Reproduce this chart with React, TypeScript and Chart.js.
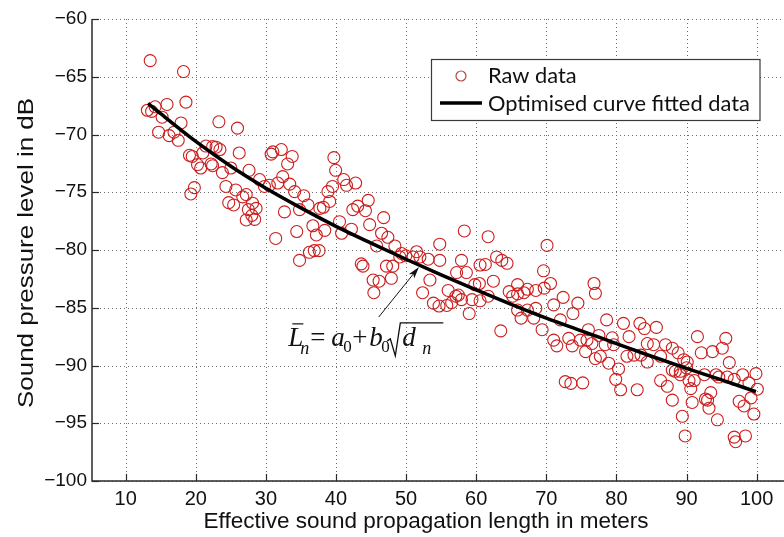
import React, { useEffect, useRef } from "react";
import { Chart, registerables } from "chart.js";
Chart.register(...registerables);

// ---- data ----
const rawX = [
  13.5, 18.25, 18.6, 13.1, 13.7, 14.2, 15.9, 15.2, 17.9, 14.7, 16.2, 16.9, 17.5, 23.3, 25.95, 19.1, 19.5, 21.0, 21.45, 22.4,
  22.9, 23.45, 26.2, 20.25, 20.7, 22.2, 22.4, 23.8, 25.0, 27.6, 29.1, 29.8, 31.7, 32.4, 33.4, 31.0, 30.75, 32.2, 33.75, 33.1,
  35.4, 36.0, 34.8, 32.65, 24.3, 25.7, 26.7, 27.2, 24.7, 25.4, 28.1, 28.6, 27.5, 28.0, 19.3, 19.8, 37.7, 27.2, 28.4, 30.5,
  34.1, 31.4, 34.4, 36.7, 37.2, 38.4, 36.2, 36.9, 37.6, 34.8,
  39.7, 39.95, 41.1, 41.5, 42.8, 39.5, 38.85, 38.2, 39.1, 40.5, 40.8, 42.2, 42.4, 43.1, 44.6, 44.2, 44.8, 46.8, 46.5, 47.4,
  48.4, 45.8, 43.6, 43.85, 47.2, 48.1, 45.3, 46.15, 45.4, 49.1,
  49.35, 49.96, 51.0, 51.5, 51.97, 53.15, 54.8, 54.8, 58.3, 61.7, 57.9, 60.55, 61.3, 62.9, 63.65, 64.4, 57.2, 58.6, 70.1, 47.9,
  53.4, 52.35, 53.9, 54.7, 55.8, 56.5, 57.1, 56.0, 57.45, 59.0, 57.9, 59.4, 60.55, 59.8, 60.45, 62.45, 61.7, 64.7, 65.9, 67.3,
  68.5, 69.7, 66.8, 65.9, 65.2, 65.9, 66.4, 67.3, 68.5, 68.2, 69.4, 63.5, 69.6, 70.6,
  72.4, 74.5, 71.05, 72.0, 71.05, 71.5, 73.7, 73.8, 74.85, 75.6, 76.0, 76.8, 77.0, 76.5, 72.7, 73.5, 75.2, 73.2, 75.8, 77.5,
  78.6, 79.4, 79.6, 81.0, 81.8, 83.35, 84.0, 85.7, 77.0, 77.7, 78.9, 80.3, 79.9, 80.6, 81.5, 82.5, 82.96, 84.4, 85.3, 86.3,
  87.0, 87.97, 88.8, 86.3, 87.25, 87.97, 89.6, 90.1, 89.1, 91.55, 92.1, 93.7, 95.1, 95.6, 96.1, 94.2, 94.6, 95.8, 98.0, 99.9,
  98.9, 100.1, 93.45, 93.0, 93.2, 90.6, 90.8, 97.5, 98.2, 99.2, 99.6, 89.4, 94.4, 78.4, 84.4, 83.5, 88.4, 89.1, 90.35, 91.1,
  92.55, 96.8, 92.7, 89.8, 96.8, 97.0, 98.4, 87.97, 90.0,
];
const rawY = [
  -63.6, -64.55, -67.2, -67.9, -68.0, -67.6, -67.4, -68.5, -69.0, -69.8, -70.1, -69.8, -70.5, -68.9, -69.45, -71.8, -71.9, -71.6, -71.0, -71.05,
  -71.1, -71.3, -71.6, -72.6, -72.9, -72.55, -72.7, -73.3, -72.9, -73.1, -73.9, -74.5, -74.2, -73.65, -74.3, -71.5, -71.7, -71.3, -71.9, -72.55,
  -75.3, -76.1, -76.5, -76.7, -74.5, -74.8, -75.4, -75.2, -75.9, -76.1, -75.95, -76.4, -76.5, -77.0, -75.15, -74.6, -76.4, -77.4, -77.35, -74.4,
  -74.95, -79.0, -78.4, -77.9, -78.7, -78.3, -80.2, -80.05, -80.05, -80.9,
  -72.0, -73.1, -73.9, -74.4, -74.2, -74.5, -74.95, -76.3, -75.8, -77.55, -78.55, -78.2, -76.5, -76.2, -75.7, -76.6, -77.8, -77.2, -78.55, -78.9,
  -79.65, -79.65, -81.2, -81.4, -81.4, -81.4, -82.6, -82.7, -83.7, -80.6,
  -80.3, -80.5, -80.6, -80.15, -80.6, -80.8, -80.9, -79.5, -78.35, -78.85, -80.9, -81.3, -81.25, -80.6, -80.9, -81.15, -81.95, -81.95, -79.6, -82.45,
  -82.6, -83.7, -84.6, -84.85, -84.8, -84.55, -84.0, -83.5, -83.9, -85.5, -84.3, -84.3, -84.4, -83.0, -82.9, -82.7, -84.0, -83.6, -83.0, -83.4,
  -83.5, -83.3, -83.7, -83.8, -84.0, -85.2, -85.9, -85.2, -85.05, -85.9, -86.9, -87.0, -81.8, -82.9,
  -84.1, -84.6, -84.75, -86.05, -87.8, -88.3, -88.3, -85.5, -87.8, -88.8, -86.9, -82.9, -83.75, -88.1, -91.4, -91.55, -91.5, -87.65, -87.8, -87.4,
  -86.05, -87.6, -88.2, -86.35, -87.5, -86.35, -86.8, -86.7, -89.4, -89.2, -89.8, -90.3, -91.2, -92.1, -89.2, -89.1, -92.1, -88.1, -88.2, -89.2,
  -88.2, -88.5, -88.9, -91.3, -91.8, -93.0, -89.5, -89.7, -90.8, -87.5, -88.9, -88.8, -88.5, -87.65, -89.75, -90.8, -91.0, -91.0, -90.8, -90.7,
  -91.5, -92.05, -92.35, -93.0, -93.7, -92.0, -93.2, -93.1, -93.5, -92.8, -94.2, -94.4, -94.7, -88.2, -89.7, -89.1, -90.5, -90.5, -91.3, -91.3,
  -90.8, -91.2, -92.9, -96.1, -96.2, -96.6, -96.1, -90.4, -90.2,
];
const fitX = [13.2, 15, 20, 25, 30, 35, 40, 45, 50, 55, 60, 65, 70, 75, 80, 85, 90, 95, 99.9];
const fitY = [-67.3, -68.2, -70.6, -72.75, -74.65, -76.35, -77.95, -79.4, -80.8, -82.15, -83.45, -84.7, -85.9, -87.0, -88.1, -89.2, -90.25, -91.25, -92.27];

const xTicks = [10, 20, 30, 40, 50, 60, 70, 80, 90, 100];
const xTickLabels = ["10", "20", "30", "40", "50", "60", "70", "80", "90", "100"];
const yTicks = [-100, -95, -90, -85, -80, -75, -70, -65, -60];
const yTickLabels = ["\u2212100", "\u221295", "\u221290", "\u221285", "\u221280", "\u221275", "\u221270", "\u221265", "\u221260"];

const xTitle = "Effective sound propagation length in meters";
const yTitle = "Sound pressure level in dB";
const legendLabels = ["Raw data", "Optimised curve fitted data"];
const arrowFrom = { x: 46.1, y: -85.8 };
const arrowTo = { x: 51.84, y: -81.47 };
const formulaAt = { x: 33.2, y: -88.3 };

const RED = "rgb(204,30,30)";

const decorPlugin = {
  id: "decor",
  beforeDatasetsDraw(chart: any) {
    const { ctx, chartArea: ca, scales } = chart;
    const xs = scales.x, ys = scales.y;
    ctx.save();
    ctx.strokeStyle = "#6e6e6e";
    ctx.lineWidth = 1;
    ctx.setLineDash([1, 3]);
    xTicks.forEach((v) => {
      const px = Math.round(xs.getPixelForValue(v)) + 0.5;
      ctx.beginPath(); ctx.moveTo(px, ca.top); ctx.lineTo(px, ca.bottom); ctx.stroke();
    });
    yTicks.forEach((v) => {
      const py = Math.round(ys.getPixelForValue(v)) + 0.5;
      ctx.beginPath(); ctx.moveTo(ca.left, py); ctx.lineTo(ca.right, py); ctx.stroke();
    });
    ctx.restore();
  },
  afterDatasetsDraw(chart: any) {
    const { ctx, chartArea: ca, scales } = chart;
    const xs = scales.x, ys = scales.y;
    ctx.save();
    ctx.setLineDash([]);
    ctx.strokeStyle = "#2a2a2a";
    ctx.lineWidth = 1.5;
    ctx.beginPath();
    ctx.moveTo(ca.left, ca.top); ctx.lineTo(ca.left, ca.bottom); ctx.lineTo(ca.right, ca.bottom);
    ctx.stroke();
    ctx.lineWidth = 1.2;
    xTicks.forEach((v) => {
      const px = Math.round(xs.getPixelForValue(v)) + 0.5;
      ctx.beginPath(); ctx.moveTo(px, ca.bottom); ctx.lineTo(px, ca.bottom - 7); ctx.stroke();
    });
    yTicks.forEach((v) => {
      const py = Math.round(ys.getPixelForValue(v)) + 0.5;
      ctx.beginPath(); ctx.moveTo(ca.left, py); ctx.lineTo(ca.left + 7, py); ctx.stroke();
    });

    // arrow
    const ax0 = xs.getPixelForValue(arrowFrom.x), ay0 = ys.getPixelForValue(arrowFrom.y);
    const ax1 = xs.getPixelForValue(arrowTo.x), ay1 = ys.getPixelForValue(arrowTo.y);
    const ang = Math.atan2(ay1 - ay0, ax1 - ax0);
    ctx.strokeStyle = "#111"; ctx.fillStyle = "#111"; ctx.lineWidth = 1;
    ctx.beginPath(); ctx.moveTo(ax0, ay0);
    ctx.lineTo(ax1 - 8 * Math.cos(ang), ay1 - 8 * Math.sin(ang)); ctx.stroke();
    ctx.beginPath();
    ctx.moveTo(ax1, ay1);
    ctx.lineTo(ax1 - 12 * Math.cos(ang) + 3.5 * Math.sin(ang), ay1 - 12 * Math.sin(ang) - 3.5 * Math.cos(ang));
    ctx.lineTo(ax1 - 9 * Math.cos(ang), ay1 - 9 * Math.sin(ang));
    ctx.lineTo(ax1 - 12 * Math.cos(ang) - 3.5 * Math.sin(ang), ay1 - 12 * Math.sin(ang) + 3.5 * Math.cos(ang));
    ctx.closePath(); ctx.fill();

    // formula
    const fx = xs.getPixelForValue(formulaAt.x), fb = ys.getPixelForValue(formulaAt.y);
    const serif = '"Liberation Serif", "DejaVu Serif", serif';
    ctx.fillStyle = "#111";
    ctx.textBaseline = "alphabetic";
    ctx.textAlign = "left";
    ctx.font = `italic 27px ${serif}`;
    ctx.fillText("L", fx, fb);
    ctx.lineWidth = 1.2;
    ctx.beginPath(); ctx.moveTo(fx + 4, fb - 22); ctx.lineTo(fx + 15, fb - 22); ctx.stroke();
    ctx.font = `italic 18px ${serif}`;
    ctx.fillText("n", fx + 12, fb + 8);
    ctx.font = `27px ${serif}`;
    ctx.fillText("=", fx + 22, fb);
    ctx.font = `italic 27px ${serif}`;
    ctx.fillText("a", fx + 43, fb);
    ctx.font = `17px ${serif}`;
    ctx.fillText("0", fx + 55, fb + 6);
    ctx.font = `27px ${serif}`;
    ctx.fillText("+", fx + 64, fb);
    ctx.font = `italic 27px ${serif}`;
    ctx.fillText("b", fx + 81, fb);
    ctx.font = `17px ${serif}`;
    ctx.fillText("0", fx + 93, fb + 6);
    ctx.lineWidth = 1.3;
    ctx.beginPath();
    ctx.moveTo(fx + 99, fb - 5);
    ctx.lineTo(fx + 102, fb - 7);
    ctx.lineTo(fx + 107, fb + 10);
    ctx.lineTo(fx + 112, fb - 23);
    ctx.lineTo(fx + 155, fb - 23);
    ctx.stroke();
    ctx.font = `italic 27px ${serif}`;
    ctx.fillText("d", fx + 114, fb);
    ctx.font = `italic 18px ${serif}`;
    ctx.fillText("n", fx + 134, fb + 8);
    ctx.restore();
  },
  afterDraw(chart: any) {
    const { ctx } = chart;
    ctx.save();
    // legend
    ctx.fillStyle = "#fff";
    ctx.fillRect(432, 60, 328, 60);
    ctx.strokeStyle = "#3a3a3a"; ctx.lineWidth = 1.2;
    ctx.strokeRect(431.5, 59.5, 328.5, 61);
    ctx.strokeStyle = "rgb(180,70,70)"; ctx.lineWidth = 1.2;
    ctx.beginPath(); ctx.arc(461, 76, 5, 0, Math.PI * 2); ctx.stroke();
    ctx.strokeStyle = "#000"; ctx.lineWidth = 3.5;
    ctx.beginPath(); ctx.moveTo(440, 103); ctx.lineTo(482, 103); ctx.stroke();
    let size = 22;
    ctx.font = `${size}px Lato, "Open Sans", sans-serif`;
    const w = ctx.measureText(legendLabels[1]).width;
    size = size * 262 / w;
    ctx.font = `${size}px Lato, "Open Sans", sans-serif`;
    ctx.fillStyle = "#111";
    ctx.textAlign = "left"; ctx.textBaseline = "middle";
    ctx.fillText(legendLabels[0], 488, 76);
    ctx.fillText(legendLabels[1], 488, 104);

    // axis titles
    ctx.font = '22.5px "Liberation Sans", Arial, sans-serif';
    ctx.textBaseline = "alphabetic";
    ctx.textAlign = "center";
    ctx.fillText(xTitle, 426, 528);
    ctx.translate(33, 253);
    ctx.rotate(-Math.PI / 2);
    const yw = ctx.measureText(yTitle).width;
    ctx.scale(310 / yw, 1);
    ctx.fillText(yTitle, 0, 0);
    ctx.restore();
  },
};

export default function App() {
  const ref = useRef<HTMLCanvasElement | null>(null);
  useEffect(() => {
    if (!ref.current) return;
    const chart = new Chart(ref.current, {
      type: "scatter",
      data: {
        datasets: [
          {
            type: "line",
            label: legendLabels[1],
            data: fitX.map((x, i) => ({ x, y: fitY[i] })),
            borderColor: "#000",
            borderWidth: 3.5,
            pointRadius: 0,
            cubicInterpolationMode: "monotone",
            fill: false,
            order: 0,
          } as any,
          {
            type: "scatter",
            label: legendLabels[0],
            data: rawX.map((x, i) => ({ x, y: rawY[i] })),
            borderColor: RED,
            backgroundColor: "rgba(0,0,0,0)",
            pointRadius: 6,
            pointBorderWidth: 1.1,
            order: 1,
          } as any,
        ],
      },
      options: {
        responsive: false,
        animation: false,
        devicePixelRatio: 1,
        layout: { padding: { top: 19, right: 0, bottom: 0, left: 0 }, autoPadding: false } as any,
        plugins: { legend: { display: false }, tooltip: { enabled: false } },
        scales: {
          x: {
            type: "linear",
            min: 5.2,
            max: 103.9,
            afterBuildTicks: (s: any) => { s.ticks = xTicks.map((v) => ({ value: v })); },
            afterFit: (s: any) => { s.height = 56; },
            grid: { display: false, drawTicks: false },
            border: { display: false },
            ticks: {
              autoSkip: false,
              maxRotation: 0,
              padding: 6,
              color: "#111",
              font: { family: '"Liberation Sans", Arial, sans-serif', size: 20 },
              callback: (v: any) => { const i = xTicks.indexOf(Number(v)); return i >= 0 ? xTickLabels[i] : ""; },
            },
          },
          y: {
            type: "linear",
            min: -100,
            max: -60,
            afterBuildTicks: (s: any) => { s.ticks = yTicks.map((v) => ({ value: v })); },
            afterFit: (s: any) => { s.width = 92; },
            grid: { display: false, drawTicks: false },
            border: { display: false },
            ticks: {
              autoSkip: false,
              padding: 5,
              color: "#111",
              font: { family: '"Liberation Sans", Arial, sans-serif', size: 19 },
              callback: (v: any) => { const i = yTicks.indexOf(Number(v)); return i >= 0 ? yTickLabels[i] : ""; },
            },
          },
        },
      } as any,
      plugins: [decorPlugin],
    });
    return () => chart.destroy();
  }, []);
  return (
    <div style={{ position: "absolute", left: 0, top: 0, width: 784, height: 537, background: "#fff", overflow: "hidden" }}>
      <canvas ref={ref} width={784} height={537} style={{ width: 784, height: 537, display: "block" }} />
    </div>
  );
}
